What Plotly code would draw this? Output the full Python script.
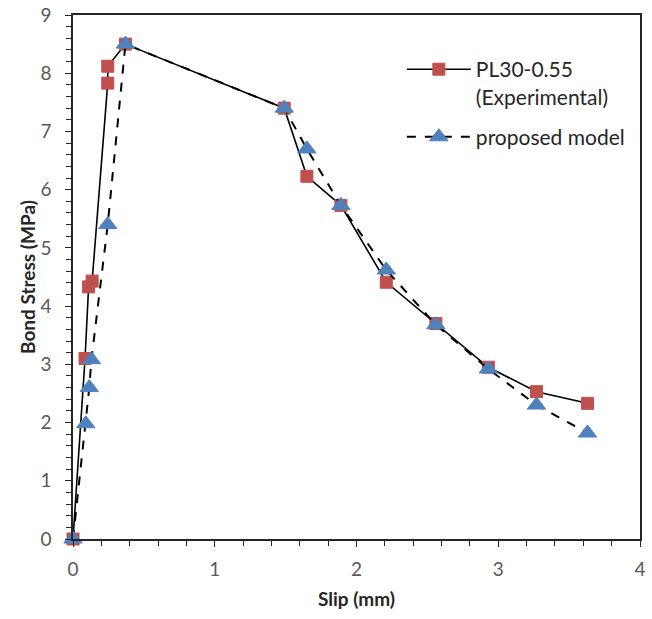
import plotly.graph_objects as go

# Experimental bond stress-slip curve (PL30-0.55)
exp_slip = [0.0, 0.085, 0.11, 0.135, 0.245, 0.245, 0.37, 1.49, 1.65, 1.89, 2.21, 2.56, 2.93, 3.27, 3.63]
exp_stress = [0.0, 3.10, 4.33, 4.43, 7.83, 8.12, 8.50, 7.40, 6.23, 5.73, 4.41, 3.70, 2.95, 2.53, 2.33]

# Proposed analytical model
mod_slip = [0.0, 0.09, 0.115, 0.13, 0.245, 0.37, 1.49, 1.65, 1.89, 2.21, 2.56, 2.93, 3.27, 3.63]
mod_stress = [0.0, 1.98, 2.60, 3.08, 5.40, 8.50, 7.40, 6.70, 5.73, 4.62, 3.68, 2.92, 2.30, 1.82]

exp_name = "PL30-0.55<br>(Experimental)"
mod_name = "proposed model"

FONT = "Lato"
AXIS_COLOR = "#262626"
TICK_COLOR = "#595959"

fig = go.Figure()
fig.add_trace(go.Scatter(
    x=exp_slip, y=exp_stress, name=exp_name, mode="lines+markers",
    legendgroup="exp",
    line=dict(color="black", width=1.6), cliponaxis=False,
    marker=dict(symbol="square", size=12, color="#C0504D",
                line=dict(color="#C0504D", width=1)),
))
fig.add_trace(go.Scatter(
    x=mod_slip, y=mod_stress, name=mod_name, mode="lines+markers",
    legendgroup="mod",
    line=dict(color="black", width=2, dash="dash"), cliponaxis=False,
    marker=dict(symbol="triangle-up", size=16, color="#4F81BD",
                line=dict(color="#4F81BD", width=1)),
))

axis_common = dict(
    showline=True, linecolor=AXIS_COLOR, linewidth=1.5, mirror=True,
    showgrid=False, zeroline=False, automargin=False,
    ticks="outside", ticklen=6, tickwidth=1.3, tickcolor=AXIS_COLOR,
    tickfont=dict(family=FONT, size=19, color=TICK_COLOR),
)

fig.update_xaxes(
    range=[0, 4], dtick=1, tick0=0, ticklabelstandoff=6,
    minor=dict(dtick=0.2, ticks="outside", ticklen=5, tickcolor=AXIS_COLOR, tickwidth=1.3),
    title=dict(text="<b>Slip (mm)</b>", font=dict(family=FONT, size=19, color="#262626"), standoff=14),
    **axis_common,
)
fig.update_yaxes(
    range=[0, 9], dtick=1, tick0=0, ticklabelstandoff=10,
    minor=dict(dtick=0.2, ticks="outside", ticklen=5, tickcolor=AXIS_COLOR, tickwidth=1.3),
    title=dict(text="<b>Bond Stress (MPa)</b>", font=dict(family=FONT, size=19, color="#262626"), standoff=0),
    **axis_common,
)

fig.update_layout(
    width=652, height=619,
    margin=dict(l=73, r=12, t=15, b=80),
    plot_bgcolor="white", paper_bgcolor="white",
    showlegend=True,
    legend=dict(
        x=0.58, y=0.935, xanchor="left", yanchor="top",
        font=dict(family=FONT, size=21, color="#262626"),
        bgcolor="rgba(255,255,255,0)", itemwidth=64, valign="top",
        traceorder="grouped", tracegroupgap=10,
    ),
)

fig.write_html("out.html")
